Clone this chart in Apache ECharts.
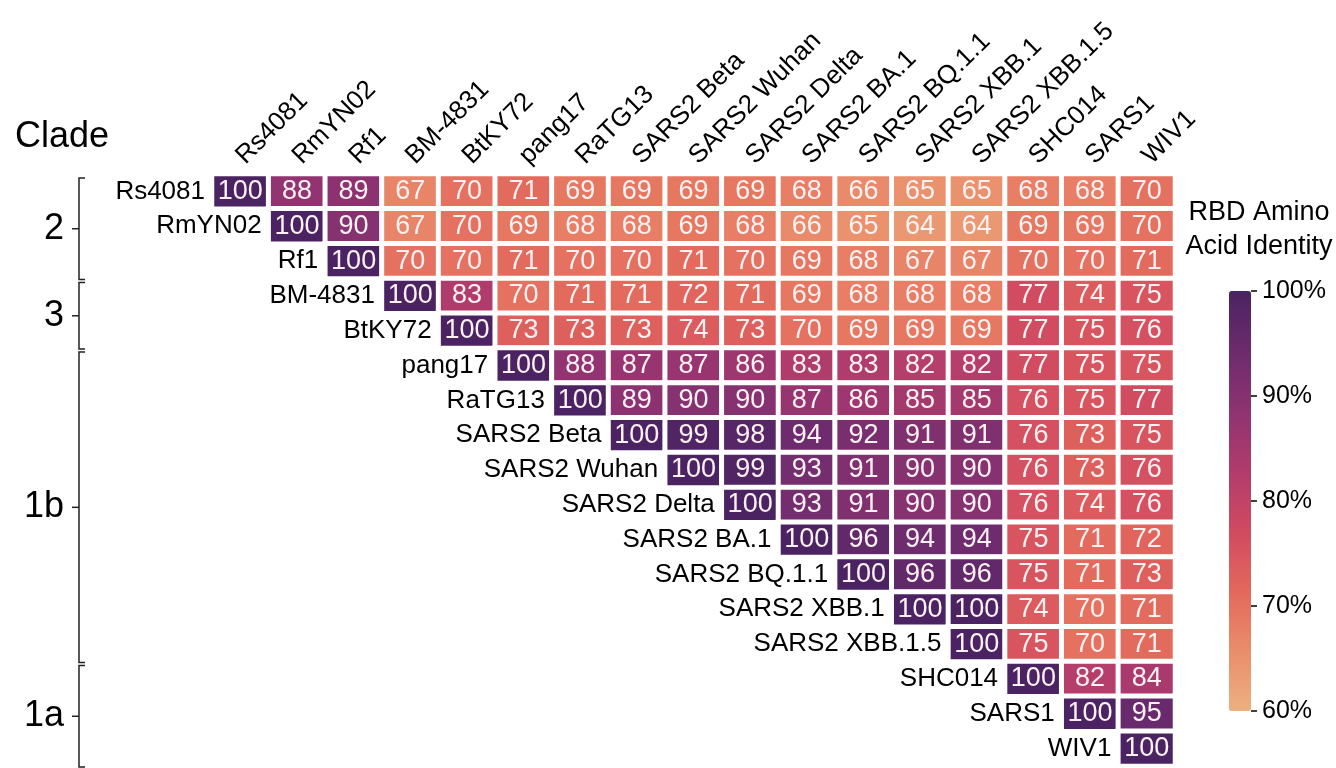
<!DOCTYPE html>
<html>
<head>
<meta charset="utf-8">
<script src="https://cdn.jsdelivr.net/npm/echarts@6/dist/echarts.min.js"></script>
<style>
    html, body { margin: 0; padding: 0; background: #fff; }
    #heatmap { width: 1336px; height: 768px; }
</style>
</head>
<body>
<div id="heatmap"></div>
<script>
// strains, same order on both axes
var categories = ['Rs4081', 'RmYN02', 'Rf1', 'BM-4831', 'BtKY72', 'pang17', 'RaTG13',
    'SARS2 Beta', 'SARS2 Wuhan', 'SARS2 Delta', 'SARS2 BA.1', 'SARS2 BQ.1.1',
    'SARS2 XBB.1', 'SARS2 XBB.1.5', 'SHC014', 'SARS1', 'WIV1']

// upper triangle, each row starts at the diagonal
var identityRows = [
    [100, 88, 89, 67, 70, 71, 69, 69, 69, 69, 68, 66, 65, 65, 68, 68, 70],
    [100, 90, 67, 70, 69, 68, 68, 69, 68, 66, 65, 64, 64, 69, 69, 70],
    [100, 70, 70, 71, 70, 70, 71, 70, 69, 68, 67, 67, 70, 70, 71],
    [100, 83, 70, 71, 71, 72, 71, 69, 68, 68, 68, 77, 74, 75],
    [100, 73, 73, 73, 74, 73, 70, 69, 69, 69, 77, 75, 76],
    [100, 88, 87, 87, 86, 83, 83, 82, 82, 77, 75, 75],
    [100, 89, 90, 90, 87, 86, 85, 85, 76, 75, 77],
    [100, 99, 98, 94, 92, 91, 91, 76, 73, 75],
    [100, 99, 93, 91, 90, 90, 76, 73, 76],
    [100, 93, 91, 90, 90, 76, 74, 76],
    [100, 96, 94, 94, 75, 71, 72],
    [100, 96, 96, 75, 71, 73],
    [100, 100, 74, 70, 71],
    [100, 75, 70, 71],
    [100, 82, 84],
    [100, 95],
    [100]
]

// clade groups (first and last row index)
var cladeNames = ['2', '3', '1b', '1a']
var cladeStart = [0, 3, 5, 14]
var cladeEnd = [2, 4, 13, 16]

// colour bar ticks
var legendTicks = [60, 70, 80, 90, 100]

var font = "'Liberation Sans', Arial, sans-serif"
var flare = ['#edb081', '#e98d6b', '#e3685c', '#d14a61', '#b13c6c', '#8f3371', '#6c2b6d', '#4b2362']

var cells = []
identityRows.forEach(function (row, r) {
    row.forEach(function (v, k) {
        cells.push([r + k, r, v])
    })
})
var diagonal = categories.map(function (c, i) { return [i, i] })
var clades = cladeNames.map(function (n, i) { return [0, cladeStart[i], cladeEnd[i]] })

var chart = echarts.init(document.getElementById('heatmap'))
chart.setOption({
    backgroundColor: '#fff',
    animation: false,
    textStyle: { fontFamily: font },
    title: {
        text: 'Clade',
        left: 10,
        top: 114,
        textStyle: { fontSize: 36, fontWeight: 'normal', color: '#000', fontFamily: font }
    },
    grid: [
        { left: 212, right: 161, top: 174, bottom: 2 },
        { left: 1229, width: 22, top: 291, height: 420 }
    ],
    xAxis: [
        {
            type: 'category',
            data: categories,
            position: 'top',
            axisLine: { show: false },
            axisTick: { show: false },
            splitLine: { show: false },
            axisLabel: { rotate: -45, interval: 0, margin: 14, fontSize: 26, color: '#000', fontFamily: font }
        },
        { type: 'value', gridIndex: 1, min: 0, max: 1, show: false }
    ],
    yAxis: [
        { type: 'category', data: categories, inverse: true, show: false },
        {
            type: 'value',
            gridIndex: 1,
            position: 'right',
            min: 60,
            max: 100,
            interval: 10,
            axisLine: { show: false },
            splitLine: { show: false },
            axisTick: { show: false },
            axisLabel: { margin: 11, fontSize: 25, color: '#000', fontFamily: font, formatter: '{value}%' }
        }
    ],
    visualMap: {
        type: 'continuous',
        min: 60,
        max: 100,
        seriesIndex: 0,
        orient: 'vertical',
        left: 1229,
        top: 291,
        itemWidth: 22,
        itemHeight: 420,
        padding: 0,
        calculable: false,
        hoverLink: false,
        text: null,
        showLabel: false,
        inRange: { color: flare }
    },
    graphic: [{
        type: 'text',
        x: 1259,
        y: 196,
        style: {
            text: 'RBD Amino\nAcid Identity',
            align: 'center',
            lineHeight: 34,
            font: '27px ' + font,
            fill: '#000'
        }
    }],
    series: [
        {
            type: 'heatmap',
            data: cells,
            itemStyle: { borderColor: '#fff', borderWidth: 5 },
            label: {
                show: true,
                fontSize: 27,
                color: '#fdf1f1',
                fontFamily: font,
                formatter: function (p) { return p.value[2] }
            },
            emphasis: { disabled: true }
        },
        {
            // row names sit just left of each diagonal cell
            type: 'custom',
            data: diagonal,
            silent: true,
            renderItem: function (params, api) {
                var c = api.coord([api.value(0), api.value(1)])
                var s = api.size([1, 1])
                return {
                    type: 'text',
                    style: {
                        text: categories[params.dataIndex],
                        x: c[0] - s[0] / 2 - 7,
                        y: c[1],
                        align: 'right',
                        verticalAlign: 'middle',
                        font: '26px ' + font,
                        fill: '#000'
                    }
                }
            }
        },
        {
            // clade brackets on the left
            type: 'custom',
            data: clades,
            silent: true,
            encode: { x: 0, y: [1, 2] },
            renderItem: function (params, api) {
                var s = api.size([1, 1])
                var top = api.coord([0, api.value(1)])[1] - s[1] / 2 + 4
                var bot = api.coord([0, api.value(2)])[1] + s[1] / 2 + 1
                var mid = (top + bot) / 2
                var x = 79
                var line = { stroke: '#222', lineWidth: 1.5, fill: null }
                return {
                    type: 'group',
                    children: [
                        { type: 'polyline', shape: { points: [[x + 6, top], [x, top], [x, bot], [x + 6, bot]] }, style: line },
                        { type: 'line', shape: { x1: x - 7, y1: mid, x2: x, y2: mid }, style: line },
                        {
                            type: 'text',
                            style: {
                                text: cladeNames[params.dataIndex],
                                x: x - 15,
                                y: mid,
                                align: 'right',
                                verticalAlign: 'middle',
                                font: '36px ' + font,
                                fill: '#000'
                            }
                        }
                    ]
                }
            }
        },
        {
            // small tick marks right of the colour bar
            type: 'custom',
            xAxisIndex: 1,
            yAxisIndex: 1,
            silent: true,
            data: legendTicks.map(function (v) { return [1, v] }),
            renderItem: function (params, api) {
                var p = api.coord([api.value(0), api.value(1)])
                return {
                    type: 'line',
                    shape: { x1: p[0], y1: p[1], x2: p[0] + 6, y2: p[1] },
                    style: { stroke: '#000', lineWidth: 1.5 }
                }
            }
        }
    ]
})
</script>
</body>
</html>
